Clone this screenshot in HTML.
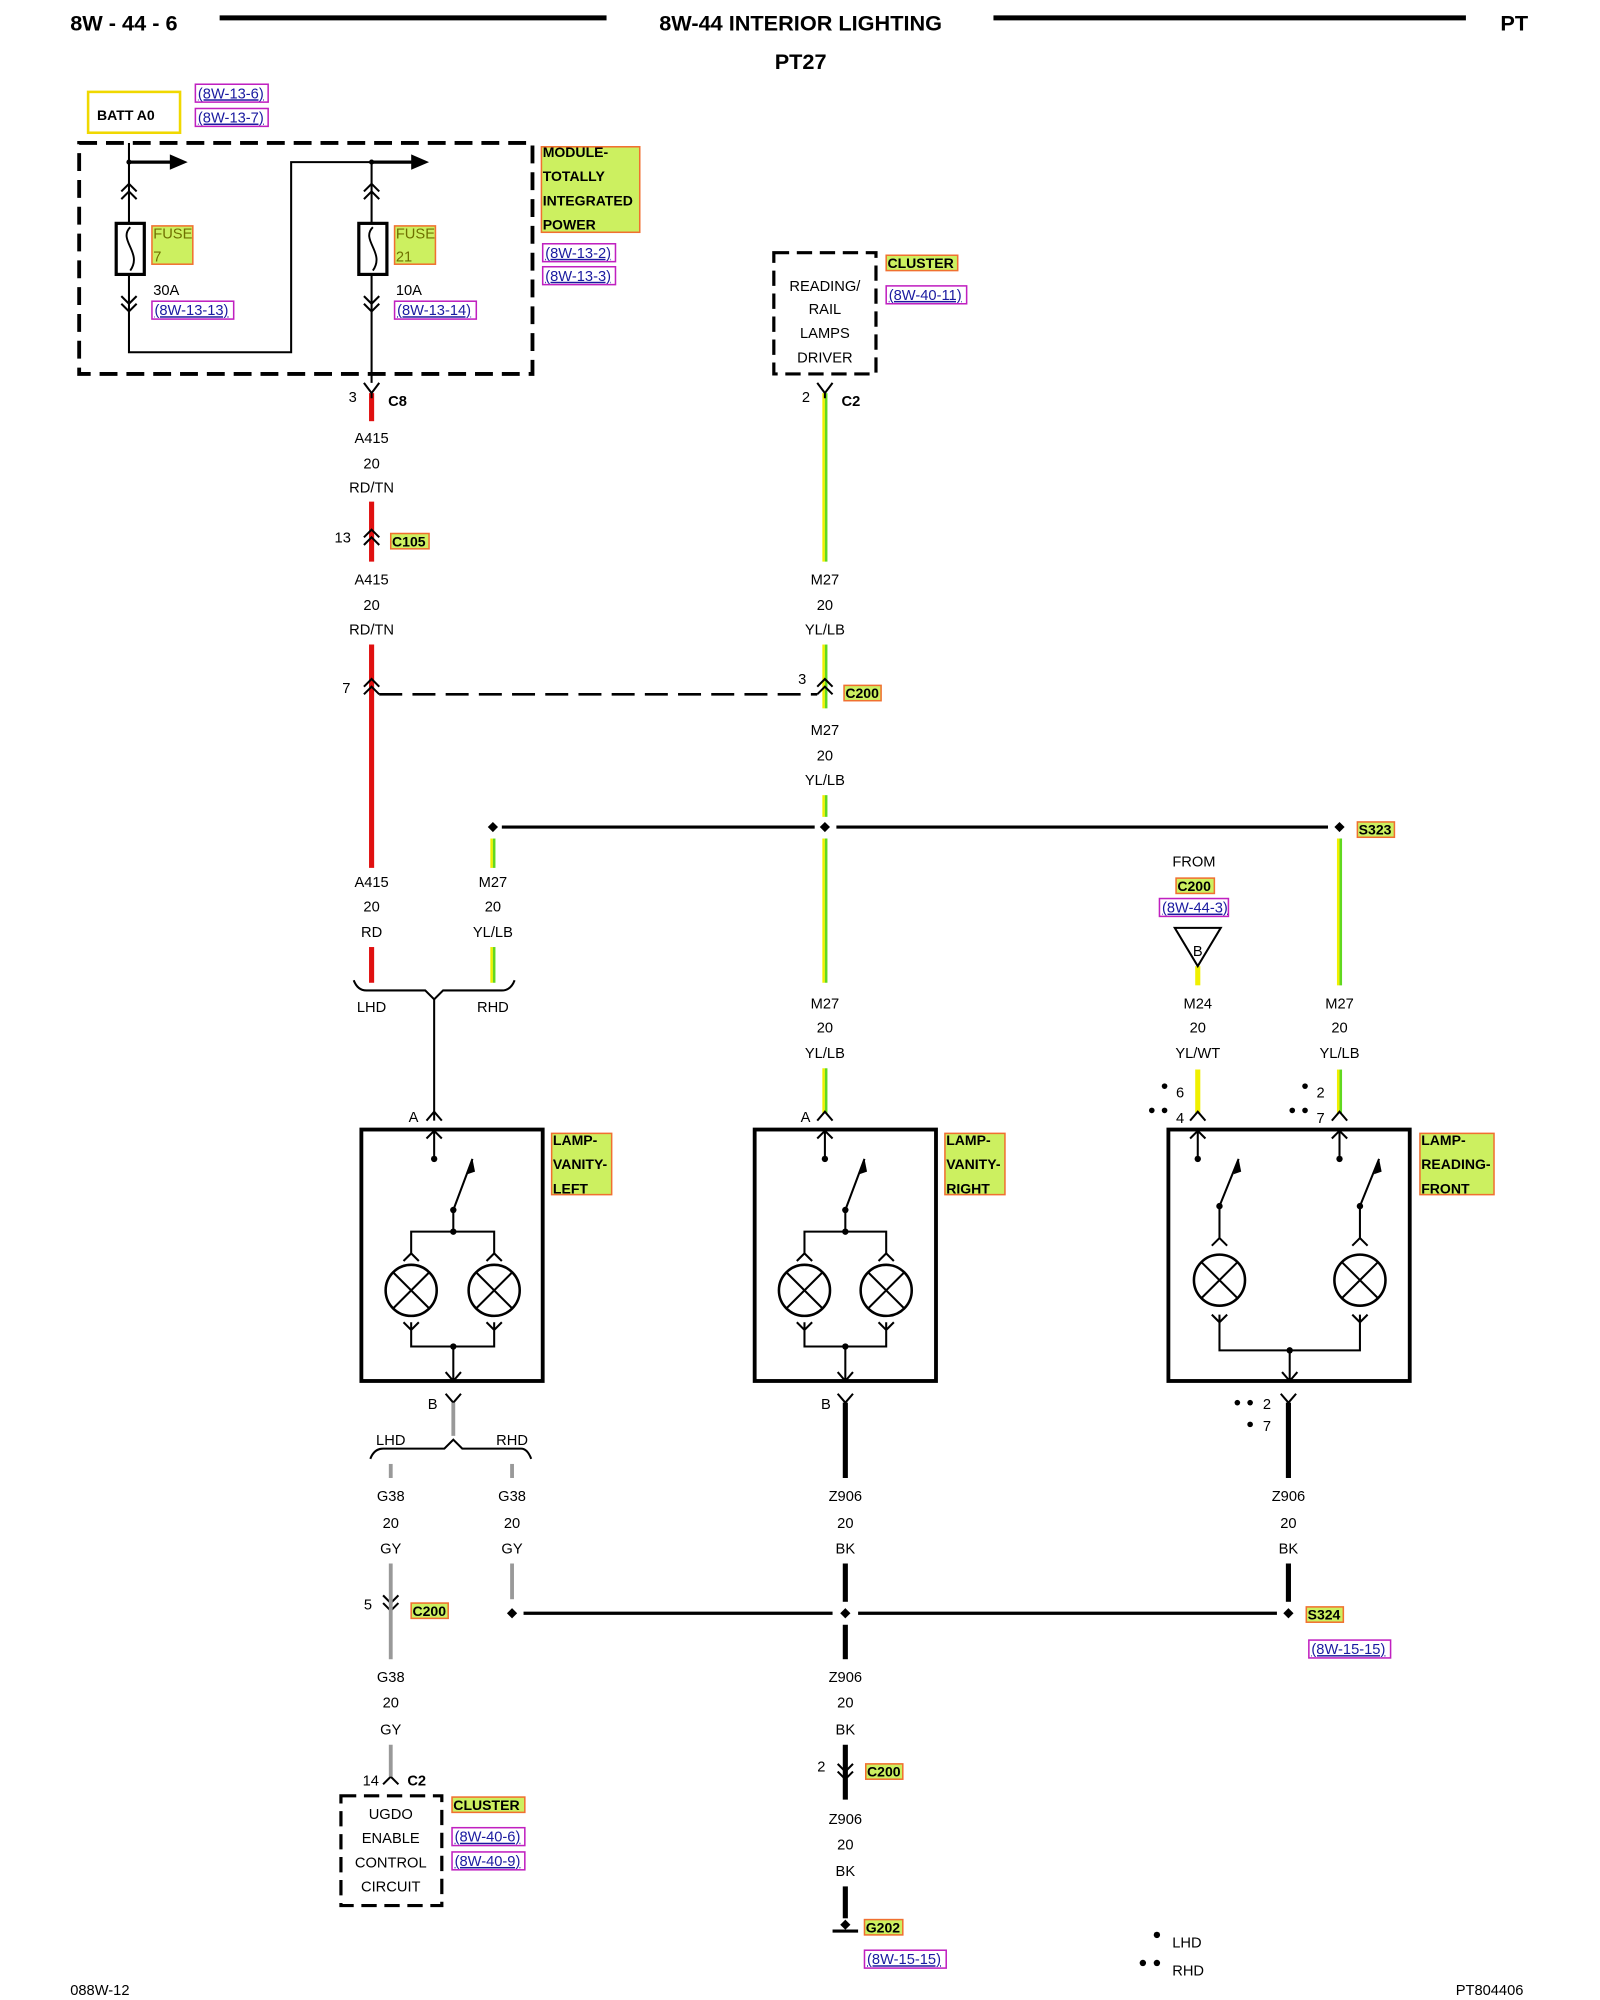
<!DOCTYPE html>
<html><head><meta charset="utf-8"><style>
html,body{margin:0;padding:0;background:#fff;}
svg{display:block}
text{font-family:"Liberation Sans",Arial,sans-serif;fill:#000;}
.w{font-size:11.5px;text-anchor:middle;}
.b{font-weight:bold;}
.ref{font-size:11.5px;fill:#1a1aa0;text-decoration:underline;}
.lab{font-size:11px;font-weight:bold;}
</style></head><body>
<svg width="1600" height="2000" viewBox="0 0 1253 1567" preserveAspectRatio="none" xmlns="http://www.w3.org/2000/svg">
<g fill="none" stroke="#000" stroke-width="1.6">
<line x1="172" y1="14" x2="475" y2="14" stroke-width="4"/>
<line x1="778" y1="14" x2="1148" y2="14" stroke-width="4"/>
</g>
<text x="55" y="24" class="b" font-size="17">8W - 44 - 6</text>
<text x="627" y="24" class="b" font-size="17" text-anchor="middle">8W-44 INTERIOR LIGHTING</text>
<text x="1175" y="24" class="b" font-size="17">PT</text>
<text x="627" y="54" class="b" font-size="17" text-anchor="middle">PT27</text>

<rect x="69" y="72" width="72" height="32" fill="none" stroke="#f0d800" stroke-width="2"/>
<text x="76" y="94" class="lab">BATT A0</text>
<g fill="none" stroke="#c020c0" stroke-width="1.2">
<rect x="153" y="66" width="57" height="14"/><rect x="153" y="85" width="57" height="14"/>
<rect x="119" y="236" width="64" height="14"/><rect x="309" y="236" width="64" height="14"/>
<rect x="425" y="191" width="57" height="14"/><rect x="425" y="209" width="57" height="14"/>
<rect x="694" y="224" width="63" height="14"/><rect x="908" y="704" width="54" height="14"/>
<rect x="354" y="1432" width="57" height="14"/><rect x="354" y="1451" width="57" height="14"/>
<rect x="677" y="1528" width="64" height="14"/><rect x="1025" y="1285" width="64" height="14"/>
</g>
<text x="155" y="77" class="ref">(8W-13-6)</text>
<text x="155" y="96" class="ref">(8W-13-7)</text>
<text x="121" y="247" class="ref">(8W-13-13)</text>
<text x="311" y="247" class="ref">(8W-13-14)</text>
<text x="427" y="202" class="ref">(8W-13-2)</text>
<text x="427" y="220" class="ref">(8W-13-3)</text>
<text x="696" y="235" class="ref">(8W-40-11)</text>
<text x="910" y="715" class="ref">(8W-44-3)</text>
<text x="356" y="1443" class="ref">(8W-40-6)</text>
<text x="356" y="1462" class="ref">(8W-40-9)</text>
<text x="679" y="1539" class="ref">(8W-15-15)</text>
<text x="1027" y="1296" class="ref">(8W-15-15)</text>

<g fill="#ccf060" stroke="#f07030" stroke-width="1.2">
<rect x="119" y="177" width="32" height="30"/><rect x="309" y="177" width="32" height="30"/>
<rect x="424" y="115" width="77" height="67"/>
<rect x="694" y="200" width="56" height="12"/>
<rect x="306" y="418" width="30" height="12"/>
<rect x="661" y="537" width="29" height="12"/>
<rect x="1063" y="644" width="29" height="12"/>
<rect x="921" y="688" width="30" height="12"/>
<rect x="432" y="888" width="47" height="48"/><rect x="740" y="888" width="47" height="48"/>
<rect x="1112" y="888" width="58" height="48"/>
<rect x="322" y="1256" width="29" height="12"/>
<rect x="678" y="1382" width="29" height="12"/>
<rect x="677" y="1504" width="30" height="12"/>
<rect x="1023" y="1259" width="29" height="12"/>
<rect x="354" y="1408" width="57" height="12"/>
</g>
<text x="120" y="187" font-size="11.5" style="fill:#707000">FUSE</text>
<text x="120" y="205" font-size="11.5" style="fill:#707000">7</text>
<text x="310" y="187" font-size="11.5" style="fill:#707000">FUSE</text>
<text x="310" y="205" font-size="11.5" style="fill:#707000">21</text>
<g class="lab">
<text x="425" y="123" class="lab">MODULE-</text><text x="425" y="142" class="lab">TOTALLY</text>
<text x="425" y="161" class="lab">INTEGRATED</text><text x="425" y="180" class="lab">POWER</text>
<text x="695" y="210" class="lab">CLUSTER</text>
<text x="307" y="428" class="lab">C105</text>
<text x="662" y="547" class="lab">C200</text>
<text x="1064" y="654" class="lab">S323</text>
<text x="922" y="698" class="lab">C200</text>
<text x="433" y="897" class="lab">LAMP-</text><text x="433" y="916" class="lab">VANITY-</text><text x="433" y="935" class="lab">LEFT</text>
<text x="741" y="897" class="lab">LAMP-</text><text x="741" y="916" class="lab">VANITY-</text><text x="741" y="935" class="lab">RIGHT</text>
<text x="1113" y="897" class="lab">LAMP-</text><text x="1113" y="916" class="lab">READING-</text><text x="1113" y="935" class="lab">FRONT</text>
<text x="323" y="1266" class="lab">C200</text>
<text x="679" y="1392" class="lab">C200</text>
<text x="678" y="1514" class="lab">G202</text>
<text x="1024" y="1269" class="lab">S324</text>
<text x="355" y="1418" class="lab">CLUSTER</text>
</g>

<g fill="none" stroke="#000">
<rect x="62" y="112" width="355" height="181" stroke-width="3" stroke-dasharray="14,7"/>
<path d="M101,112 V276 H228 V127 H291 V300" stroke-width="1.6"/>
<line x1="101" y1="127" x2="135" y2="127" stroke-width="2.5"/>
<line x1="291" y1="127" x2="325" y2="127" stroke-width="2.5"/>
<rect x="91" y="175" width="22" height="40" fill="#fff" stroke-width="2.5"/>
<rect x="281" y="175" width="22" height="40" fill="#fff" stroke-width="2.5"/>
<path d="M102,178 C92,188 112,198 102,212 M292,178 C282,188 302,198 292,212" stroke-width="1.5"/>
<path d="M95,150 L101,144 L107,150 M95,156 L101,150 L107,156 M285,150 L291,144 L297,150 M285,156 L291,150 L297,156" stroke-width="1.6"/>
<path d="M95,232 L101,238 L107,232 M95,238 L101,244 L107,238 M285,232 L291,238 L297,232 M285,238 L291,244 L297,238" stroke-width="1.6"/>
</g>
<circle cx="101" cy="127" r="2" fill="#000"/><circle cx="291" cy="127" r="2" fill="#000"/>
<polygon points="133,121 147,127 133,133" fill="#000"/>
<polygon points="322,121 336,127 322,133" fill="#000"/>
<text x="120" y="231" font-size="11.5">30A</text>
<text x="310" y="231" font-size="11.5">10A</text>

<rect x="606" y="198" width="80" height="95" fill="none" stroke="#000" stroke-width="2.5" stroke-dasharray="12,6"/>
<text x="646" y="228" class="w">READING/</text><text x="646" y="246" class="w">RAIL</text>
<text x="646" y="265" class="w">LAMPS</text><text x="646" y="284" class="w">DRIVER</text>

<g stroke="#e01010" stroke-width="4">
<line x1="291" y1="308" x2="291" y2="330"/>
<line x1="291" y1="393" x2="291" y2="440"/>
<line x1="291" y1="505" x2="291" y2="680"/>
<line x1="291" y1="742" x2="291" y2="770"/>
</g>
<g stroke-width="2">
<g stroke="#f0f000">
<line x1="645" y1="308" x2="645" y2="440"/><line x1="645" y1="505" x2="645" y2="555"/><line x1="645" y1="623" x2="645" y2="640"/>
<line x1="645" y1="657" x2="645" y2="770"/><line x1="645" y1="837" x2="645" y2="872"/>
<line x1="385" y1="657" x2="385" y2="680"/><line x1="385" y1="742" x2="385" y2="770"/>
<line x1="1048" y1="657" x2="1048" y2="772"/><line x1="1048" y1="838" x2="1048" y2="872"/>
</g>
<g stroke="#60d820">
<line x1="647" y1="308" x2="647" y2="440"/><line x1="647" y1="505" x2="647" y2="555"/><line x1="647" y1="623" x2="647" y2="640"/>
<line x1="647" y1="657" x2="647" y2="770"/><line x1="647" y1="837" x2="647" y2="872"/>
<line x1="387" y1="657" x2="387" y2="680"/><line x1="387" y1="742" x2="387" y2="770"/>
<line x1="1050" y1="657" x2="1050" y2="772"/><line x1="1050" y1="838" x2="1050" y2="872"/>
</g>
</g>
<g stroke="#f0f000" stroke-width="4">
<line x1="938" y1="757" x2="938" y2="772"/><line x1="938" y1="838" x2="938" y2="872"/>
</g>

<g fill="none" stroke="#000" stroke-width="1.6">
<path d="M285,300 L291,308 L297,300 M291,308 V312"/>
<path d="M640,300 L646,308 L652,300 M646,308 V312"/>
<path d="M285,421 L291,415 L297,421 M285,427 L291,421 L297,427"/>
<path d="M285,538 L291,532 L297,538 M285,544 L291,538 L297,544"/>
<path d="M640,538 L646,532 L652,538 M640,544 L646,538 L652,544"/>
<line x1="297" y1="544" x2="640" y2="544" stroke-width="2" stroke-dasharray="18,8"/>
<line x1="393" y1="648" x2="638" y2="648" stroke-width="2.5"/>
<line x1="655" y1="648" x2="1040" y2="648" stroke-width="2.5"/>
<path d="M277,768 Q280,776 287,776 L333,776 L340,783 L347,776 L393,776 Q400,776 403,768"/>
<line x1="340" y1="783" x2="340" y2="878"/>
<path d="M334,878 L340,871 L346,878 M640,878 L646,871 L652,878 M932,878 L938,871 L944,878 M1043,878 L1049,871 L1055,878"/>
<polygon points="920,727 956,727 938,757" stroke-width="1.6"/>
</g>
<text x="938" y="749" class="w">B</text>
<g fill="#000">
<polygon points="386,644 390,648 386,652 382,648"/><polygon points="646,644 650,648 646,652 642,648"/><polygon points="1049,644 1053,648 1049,652 1045,648"/>
</g>
<g font-size="11.5">
<text x="273" y="315">3</text><text x="304" y="318" class="b">C8</text>
<text x="628" y="315">2</text><text x="659" y="318" class="b">C2</text>
<text x="262" y="425">13</text><text x="268" y="543">7</text><text x="625" y="536">3</text>
<text x="320" y="879">A</text><text x="627" y="879">A</text>
</g>
<g class="w">
<text x="291" y="347">A415</text><text x="291" y="367">20</text><text x="291" y="386">RD/TN</text>
<text x="291" y="458">A415</text><text x="291" y="478">20</text><text x="291" y="497">RD/TN</text>
<text x="291" y="695">A415</text><text x="291" y="714">20</text><text x="291" y="734">RD</text>
<text x="386" y="695">M27</text><text x="386" y="714">20</text><text x="386" y="734">YL/LB</text>
<text x="291" y="793">LHD</text><text x="386" y="793">RHD</text>
<text x="646" y="458">M27</text><text x="646" y="478">20</text><text x="646" y="497">YL/LB</text>
<text x="646" y="576">M27</text><text x="646" y="596">20</text><text x="646" y="615">YL/LB</text>
<text x="646" y="790">M27</text><text x="646" y="809">20</text><text x="646" y="829">YL/LB</text>
<text x="935" y="679">FROM</text>
<text x="938" y="790">M24</text><text x="938" y="809">20</text><text x="938" y="829">YL/WT</text>
<text x="1049" y="790">M27</text><text x="1049" y="809">20</text><text x="1049" y="829">YL/LB</text>
</g>
<g fill="#000">
<circle cx="912" cy="851" r="2.2"/><circle cx="902" cy="870" r="2.2"/><circle cx="912" cy="870" r="2.2"/>
<circle cx="1022" cy="851" r="2.2"/><circle cx="1012" cy="870" r="2.2"/><circle cx="1022" cy="870" r="2.2"/>
<circle cx="969" cy="1099" r="2.2"/><circle cx="979" cy="1099" r="2.2"/><circle cx="979" cy="1116" r="2.2"/>
<circle cx="906" cy="1516" r="2.5"/><circle cx="895" cy="1538" r="2.5"/><circle cx="906" cy="1538" r="2.5"/>
</g>
<g font-size="11.5">
<text x="921" y="860">6</text><text x="921" y="880">4</text>
<text x="1031" y="860">2</text><text x="1031" y="880">7</text>
<text x="989" y="1104">2</text><text x="989" y="1121">7</text>
<text x="918" y="1526">LHD</text><text x="918" y="1548">RHD</text>
<text x="55" y="1563">088W-12</text><text x="1140" y="1563">PT804406</text>
</g>

<g fill="none" stroke="#000" stroke-width="1.6">
<rect x="283" y="885" width="142" height="197" stroke-width="3"/>
<rect x="591" y="885" width="142" height="197" stroke-width="3"/>
<rect x="915" y="885" width="189" height="197" stroke-width="3"/>
<path d="M340,885 V908 M334,892 L340,886 L346,892"/>
<path d="M355,948 L370,908 M355,948 V965 M322,982 V965 H387 V982"/>
<path d="M316,988 L322,982 L328,988 M381,988 L387,982 L393,988"/>
<circle cx="322" cy="1011" r="20" stroke-width="2"/><circle cx="387" cy="1011" r="20" stroke-width="2"/>
<path d="M308,997 L336,1025 M336,997 L308,1025 M373,997 L401,1025 M401,997 L373,1025"/>
<path d="M316,1036 L322,1042 L328,1036 M381,1036 L387,1042 L393,1036 M322,1036 V1055 H387 V1036 M355,1055 V1082 M349,1075 L355,1082 L361,1075"/>
<path d="M646,885 V908 M640,892 L646,886 L652,892"/>
<path d="M662,948 L677,908 M662,948 V965 M630,982 V965 H694 V982"/>
<path d="M624,988 L630,982 L636,988 M688,988 L694,982 L700,988"/>
<circle cx="630" cy="1011" r="20" stroke-width="2"/><circle cx="694" cy="1011" r="20" stroke-width="2"/>
<path d="M616,997 L644,1025 M644,997 L616,1025 M680,997 L708,1025 M708,997 L680,1025"/>
<path d="M624,1036 L630,1042 L636,1036 M688,1036 L694,1042 L700,1036 M630,1036 V1055 H694 V1036 M662,1055 V1082 M656,1075 L662,1082 L668,1075"/>
<path d="M938,885 V908 M932,892 L938,886 L944,892 M1049,885 V908 M1043,892 L1049,886 L1055,892"/>
<path d="M955,945 L970,908 M955,945 V970 M1065,945 L1080,908 M1065,945 V970"/>
<path d="M949,976 L955,970 L961,976 M1059,976 L1065,970 L1071,976"/>
<circle cx="955" cy="1003" r="20" stroke-width="2"/><circle cx="1065" cy="1003" r="20" stroke-width="2"/>
<path d="M941,989 L969,1017 M969,989 L941,1017 M1051,989 L1079,1017 M1079,989 L1051,1017"/>
<path d="M949,1030 L955,1036 L961,1030 M1059,1030 L1065,1036 L1071,1030 M955,1030 V1058 H1065 V1030 M1010,1058 V1082 M1004,1075 L1010,1082 L1016,1075"/>
</g>
<g fill="#000">
<circle cx="340" cy="908" r="2.5"/><circle cx="355" cy="948" r="2.5"/><circle cx="355" cy="965" r="2.5"/><circle cx="355" cy="1055" r="2.5"/>
<polygon points="370,908 366,920 372,918"/>
<circle cx="646" cy="908" r="2.5"/><circle cx="662" cy="948" r="2.5"/><circle cx="662" cy="965" r="2.5"/><circle cx="662" cy="1055" r="2.5"/>
<polygon points="677,908 673,920 679,918"/>
<circle cx="938" cy="908" r="2.5"/><circle cx="1049" cy="908" r="2.5"/><circle cx="955" cy="945" r="2.5"/><circle cx="1065" cy="945" r="2.5"/><circle cx="1010" cy="1058" r="2.5"/>
<polygon points="970,908 966,920 972,918"/><polygon points="1080,908 1076,920 1082,918"/>
</g>

<g fill="none" stroke-width="1.6" stroke="#000">
<path d="M349,1092 L355,1099 L361,1092 M656,1092 L662,1099 L668,1092 M1003,1092 L1009,1099 L1015,1092"/>
<path d="M290,1143 Q293,1135 300,1135 L348,1135 L355,1128 L362,1135 L408,1135 Q413,1135 416,1143"/>
<path d="M300,1250 L306,1256 L312,1250 M300,1256 L306,1262 L312,1256"/>
<path d="M300,1398 L306,1392 L312,1398"/>
<path d="M656,1382 L662,1388 L668,1382 M656,1388 L662,1394 L668,1388"/>
<line x1="410" y1="1264" x2="652" y2="1264" stroke-width="2.5"/>
<line x1="672" y1="1264" x2="1000" y2="1264" stroke-width="2.5"/>
<line x1="652" y1="1513" x2="672" y2="1513" stroke-width="2.5"/>
<rect x="267" y="1407" width="79" height="86" stroke-width="2.5" stroke-dasharray="12,6"/>
</g>
<g stroke="#999" stroke-width="3">
<line x1="355" y1="1099" x2="355" y2="1125"/>
<line x1="306" y1="1147" x2="306" y2="1158"/><line x1="401" y1="1147" x2="401" y2="1158"/>
<line x1="306" y1="1225" x2="306" y2="1300"/><line x1="401" y1="1225" x2="401" y2="1253"/>
<line x1="306" y1="1367" x2="306" y2="1392"/>
</g>
<g stroke="#000" stroke-width="4">
<line x1="662" y1="1099" x2="662" y2="1158"/><line x1="662" y1="1225" x2="662" y2="1255"/><line x1="662" y1="1273" x2="662" y2="1300"/>
<line x1="662" y1="1367" x2="662" y2="1410"/><line x1="662" y1="1478" x2="662" y2="1503"/>
<line x1="1009" y1="1099" x2="1009" y2="1158"/><line x1="1009" y1="1225" x2="1009" y2="1255"/>
</g>
<g fill="#000">
<polygon points="401,1260 405,1264 401,1268 397,1264"/><polygon points="662,1260 666,1264 662,1268 658,1264"/><polygon points="1009,1260 1013,1264 1009,1268 1005,1264"/>
<polygon points="662,1504 666,1508 662,1512 658,1508"/>
</g>
<g font-size="11.5">
<text x="335" y="1104">B</text><text x="643" y="1104">B</text>
<text x="285" y="1261">5</text><text x="640" y="1388">2</text>
<text x="284" y="1399">14</text><text x="319" y="1399" class="b">C2</text>
</g>
<g class="w">
<text x="306" y="1132">LHD</text><text x="401" y="1132">RHD</text>
<text x="306" y="1176">G38</text><text x="306" y="1197">20</text><text x="306" y="1217">GY</text>
<text x="401" y="1176">G38</text><text x="401" y="1197">20</text><text x="401" y="1217">GY</text>
<text x="306" y="1318">G38</text><text x="306" y="1338">20</text><text x="306" y="1359">GY</text>
<text x="306" y="1425">UGDO</text><text x="306" y="1444">ENABLE</text><text x="306" y="1463">CONTROL</text><text x="306" y="1482">CIRCUIT</text>
<text x="662" y="1176">Z906</text><text x="662" y="1197">20</text><text x="662" y="1217">BK</text>
<text x="662" y="1318">Z906</text><text x="662" y="1338">20</text><text x="662" y="1359">BK</text>
<text x="662" y="1429">Z906</text><text x="662" y="1449">20</text><text x="662" y="1470">BK</text>
<text x="1009" y="1176">Z906</text><text x="1009" y="1197">20</text><text x="1009" y="1217">BK</text>
</g>
</svg>
</body></html>
